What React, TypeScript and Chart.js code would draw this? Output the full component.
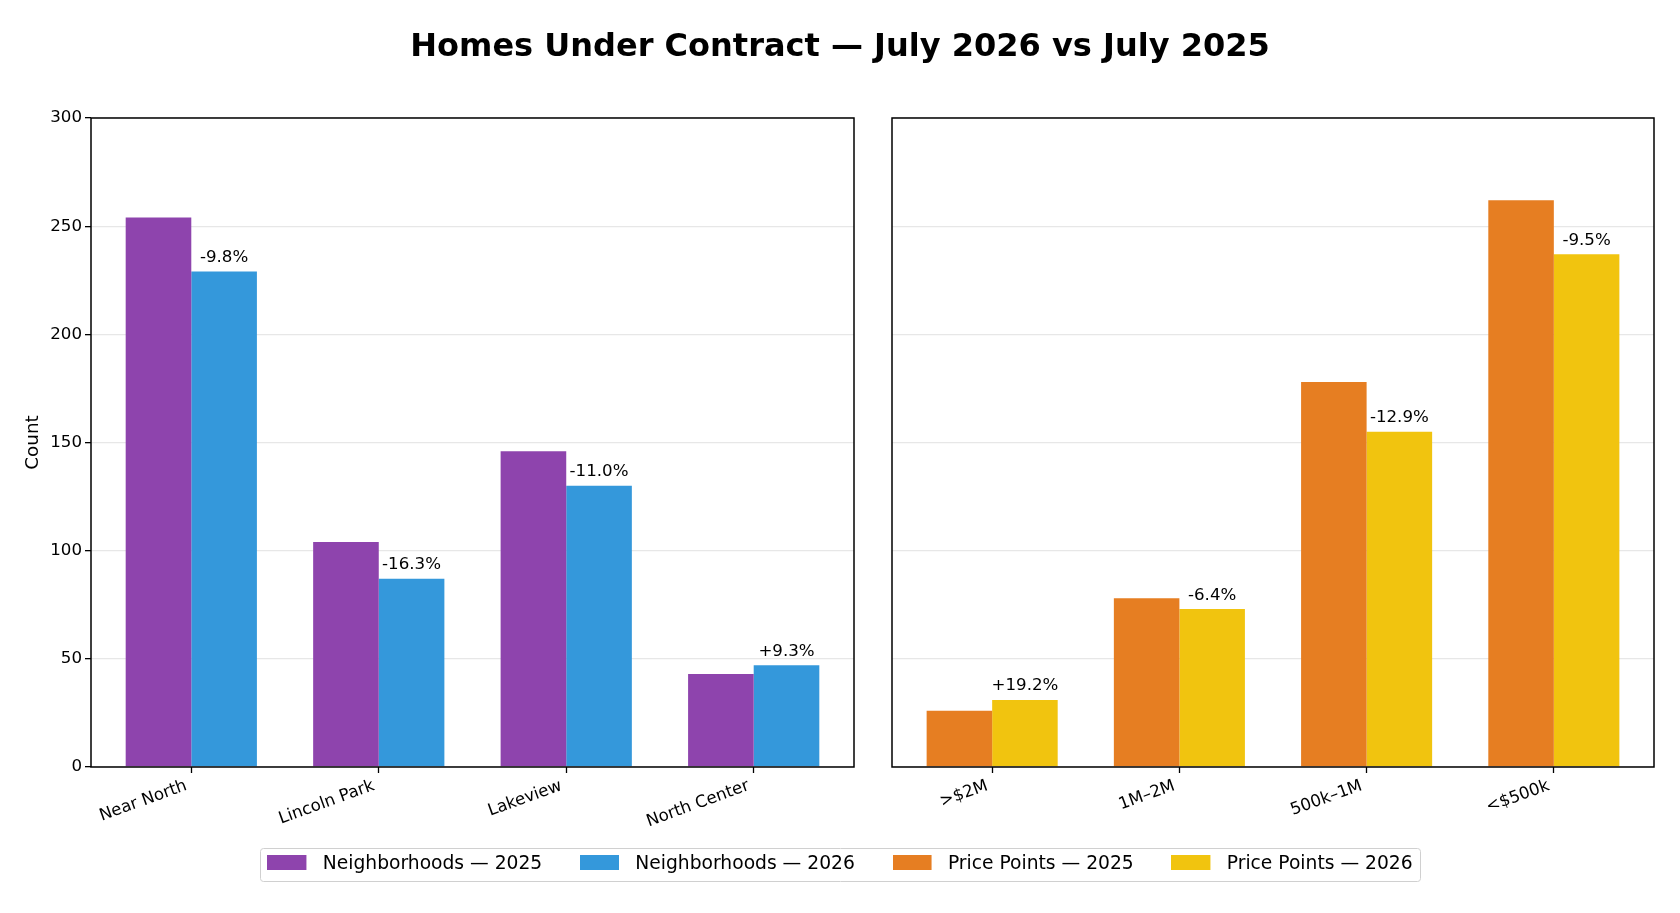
import React, { useEffect, useRef } from 'react';
import { Chart, registerables } from 'chart.js';

Chart.register(...registerables);

const FONT = 'DejaVu Sans';

const TITLE = 'Homes Under Contract — July 2026 vs July 2025';
const Y_LABEL = 'Count';
const Y_MIN = 0;
const Y_MAX = 300;
const Y_STEP = 50;

const neighborhoods = ['Near North', 'Lincoln Park', 'Lakeview', 'North Center'];
const neighborhoods2025 = [254, 104, 146, 43];
const neighborhoods2026 = [229, 87, 130, 47];
const neighborhoodChange = ['-9.8%', '-16.3%', '-11.0%', '+9.3%'];

const pricePoints = ['>$2M', '1M–2M', '500k–1M', '<$500k'];
const pricePoints2025 = [26, 78, 178, 262];
const pricePoints2026 = [31, 73, 155, 237];
const pricePointChange = ['+19.2%', '-6.4%', '-12.9%', '-9.5%'];

const seriesLabels = [
  'Neighborhoods — 2025',
  'Neighborhoods — 2026',
  'Price Points — 2025',
  'Price Points — 2026',
];
const seriesColors = ['#8e44ad', '#3498db', '#e67e22', '#f1c40f'];

const framePlugin = {
  id: 'frame',
  afterDraw(chart: any) {
    const { left, top, right, bottom } = chart.chartArea;
    const ctx = chart.ctx;
    ctx.save();
    ctx.strokeStyle = '#000';
    ctx.lineWidth = 1.5;
    ctx.strokeRect(left, top, right - left, bottom - top);
    ctx.restore();
  },
};

function changeLabelsPlugin(changes: string[]) {
  return {
    id: 'changeLabels',
    afterDraw(chart: any) {
      const ctx = chart.ctx;
      const meta = chart.getDatasetMeta(1);
      ctx.save();
      ctx.fillStyle = '#000';
      ctx.font = `16.67px "${FONT}"`;
      ctx.textAlign = 'center';
      ctx.textBaseline = 'alphabetic';
      meta.data.forEach((bar: any, i: number) => {
        ctx.fillText(changes[i], bar.x, bar.y - 9.5);
      });
      ctx.restore();
    },
  };
}

function panelConfig(
  cats: string[],
  v25: number[],
  v26: number[],
  changes: string[],
  c25: string,
  c26: string,
  l25: string,
  l26: string,
  showY: boolean
): any {
  const toXY = (vals: number[]) => vals.map((v, i) => ({ x: i, y: v }));
  const barStyle = {
    borderWidth: 0,
    categoryPercentage: 0.7,
    barPercentage: 1,
  };
  return {
    type: 'bar',
    data: {
      datasets: [
        { label: l25, data: toXY(v25), backgroundColor: c25, ...barStyle },
        { label: l26, data: toXY(v26), backgroundColor: c26, ...barStyle },
      ],
    },
    options: {
      animation: false,
      responsive: false,
      events: [],
      layout: { padding: { left: 0, top: 28, right: 26, bottom: 0 } },
      plugins: {
        legend: { display: false },
        tooltip: { enabled: false },
        title: { display: false },
      },
      scales: {
        x: {
          type: 'linear',
          min: -0.535,
          max: 3.535,
          offset: false,
          afterBuildTicks: (s: any) => {
            s.ticks = cats.map((_, i) => ({ value: i }));
          },
          afterFit: (s: any) => {
            s.height = 100;
          },
          ticks: {
            callback: (v: any) => cats[Math.round(Number(v))] ?? '',
            autoSkip: false,
            minRotation: 20,
            maxRotation: 20,
            padding: 3,
            labelOffset: -5,
            color: '#000',
            font: { family: FONT, size: 16.67 },
          },
          grid: {
            drawOnChartArea: false,
            drawTicks: true,
            tickLength: 6,
            tickColor: '#000',
            tickWidth: 1.3,
            offset: false,
          },
          border: { display: false },
        },
        y: {
          min: Y_MIN,
          max: Y_MAX,
          z: 1,
          afterFit: (s: any) => {
            s.width = showY ? 91 : 12;
          },
          ticks: {
            stepSize: Y_STEP,
            display: showY,
            padding: 3,
            color: '#000',
            font: { family: FONT, size: 16.67 },
          },
          grid: {
            color: 'rgba(176,176,176,0.3)',
            lineWidth: 1.3,
            drawTicks: showY,
            tickLength: 6,
            tickColor: '#000',
            tickWidth: 1.3,
          },
          border: { display: false },
          title: {
            display: showY,
            text: Y_LABEL,
            color: '#000',
            font: { family: FONT, size: 18.33 },
            padding: { top: 22.7, bottom: 0 },
          },
        },
      },
    },
    plugins: [framePlugin, changeLabelsPlugin(changes)],
  };
}

const legendFramePlugin = {
  id: 'legendFrame',
  afterDraw(chart: any) {
    const hb = chart.legend && chart.legend.legendHitBoxes;
    if (!hb || !hb.length) return;
    let minL = Infinity;
    let maxR = -Infinity;
    hb.forEach((b: any) => {
      minL = Math.min(minL, b.left);
      maxR = Math.max(maxR, b.left + b.width);
    });
    const cy = hb[0].top + hb[0].height / 2;
    const ctx = chart.ctx;
    ctx.save();
    ctx.strokeStyle = '#d0d0d0';
    ctx.lineWidth = 1;
    ctx.beginPath();
    const x = Math.round(minL - 7) + 0.5;
    const w = Math.round(maxR + 8 - (minL - 7));
    const y = Math.round(cy - 16.5) + 0.5;
    (ctx as any).roundRect(x, y, w, 33, 3);
    ctx.stroke();
    ctx.restore();
  },
};

function makeSwatch(color: string) {
  const c = document.createElement('canvas');
  c.width = 46;
  c.height = 19;
  const g = c.getContext('2d')!;
  g.fillStyle = color;
  g.fillRect(0, 0, 39, 15);
  return c;
}

function backgroundConfig(): any {
  const swatches = seriesColors.map(makeSwatch);
  return {
    type: 'bar',
    data: {
      labels: [],
      datasets: seriesLabels.map((l, i) => ({ label: l, data: [], backgroundColor: seriesColors[i] })),
    },
    options: {
      animation: false,
      responsive: false,
      events: [],
      layout: { padding: { top: 0, bottom: 29.15, left: 0, right: 0 } },
      scales: { x: { display: false }, y: { display: false } },
      plugins: {
        tooltip: { enabled: false },
        title: {
          display: true,
          text: TITLE,
          color: '#000',
          font: { family: FONT, size: 32, weight: 'bold' },
          padding: { top: 28.7, bottom: 0 },
        },
        legend: {
          position: 'bottom',
          labels: {
            usePointStyle: true,
            pointStyleWidth: 46,
            padding: 37.75,
            color: '#000',
            font: { family: FONT, size: 18.7 },
            generateLabels: (chart: any) =>
              chart.data.datasets.map((ds: any, i: number) => ({
                text: ds.label,
                fillStyle: ds.backgroundColor,
                strokeStyle: ds.backgroundColor,
                lineWidth: 0,
                hidden: false,
                datasetIndex: i,
                pointStyle: swatches[i],
                fontColor: '#000',
              })),
          },
        },
      },
    },
    plugins: [legendFramePlugin],
  };
}

export default function App() {
  const bgRef = useRef<HTMLCanvasElement>(null);
  const leftRef = useRef<HTMLCanvasElement>(null);
  const rightRef = useRef<HTMLCanvasElement>(null);

  useEffect(() => {
    Chart.defaults.font.family = FONT;
    const charts = [
      new Chart(bgRef.current as HTMLCanvasElement, backgroundConfig()),
      new Chart(
        leftRef.current as HTMLCanvasElement,
        panelConfig(
          neighborhoods,
          neighborhoods2025,
          neighborhoods2026,
          neighborhoodChange,
          seriesColors[0],
          seriesColors[1],
          seriesLabels[0],
          seriesLabels[1],
          true
        )
      ),
      new Chart(
        rightRef.current as HTMLCanvasElement,
        panelConfig(
          pricePoints,
          pricePoints2025,
          pricePoints2026,
          pricePointChange,
          seriesColors[2],
          seriesColors[3],
          seriesLabels[2],
          seriesLabels[3],
          false
        )
      ),
    ];
    return () => charts.forEach((c) => c.destroy());
  }, []);

  return (
    <div
      style={{
        position: 'absolute',
        left: 0,
        top: 0,
        width: 1680,
        height: 913,
        background: '#fff',
        overflow: 'hidden',
      }}
    >
      <canvas
        ref={bgRef}
        width={1680}
        height={913}
        style={{ position: 'absolute', left: 0, top: 0, width: 1680, height: 913 }}
      />
      <canvas
        ref={leftRef}
        width={880}
        height={777}
        style={{ position: 'absolute', left: 0, top: 90, width: 880, height: 777 }}
      />
      <canvas
        ref={rightRef}
        width={800}
        height={777}
        style={{ position: 'absolute', left: 880, top: 90, width: 800, height: 777 }}
      />
    </div>
  );
}
